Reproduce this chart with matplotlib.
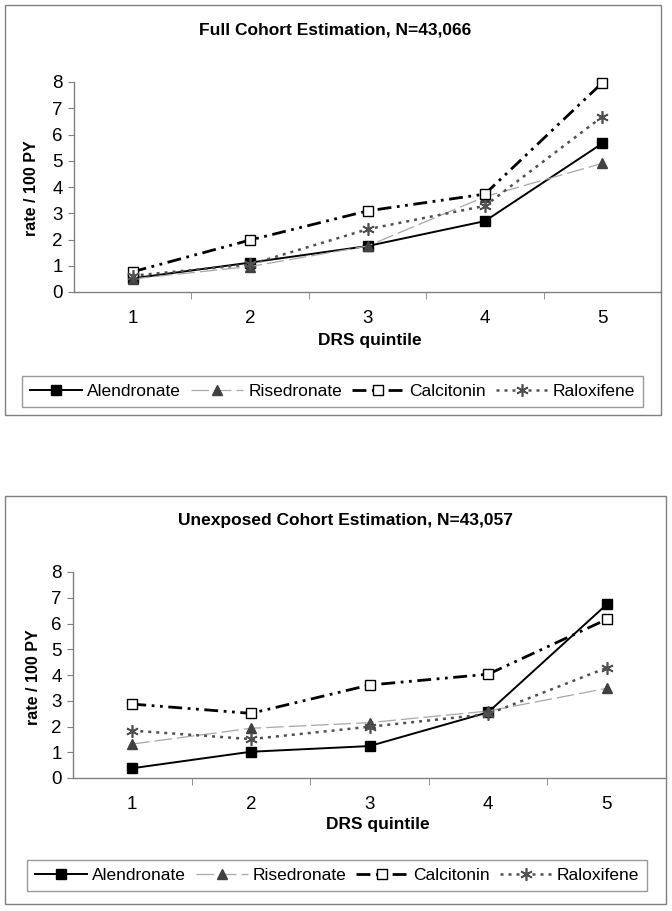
import matplotlib
matplotlib.use('Agg')
import matplotlib.pyplot as plt
from matplotlib.patches import Rectangle

plt.rcParams['font.family'] = ['Liberation Sans', 'DejaVu Sans']

# Values
quintiles = [1, 2, 3, 4, 5]
names = ['Alendronate', 'Risedronate', 'Calcitonin', 'Raloxifene']

full_alendronate = [0.52, 1.12, 1.75, 2.70, 5.66]
full_risedronate = [0.50, 0.97, 1.75, 3.63, 4.90]
full_calcitonin = [0.77, 1.98, 3.09, 3.73, 7.97]
full_raloxifene = [0.62, 1.05, 2.39, 3.28, 6.68]

unexp_alendronate = [0.38, 1.02, 1.24, 2.55, 6.74]
unexp_risedronate = [1.32, 1.93, 2.15, 2.60, 3.48]
unexp_calcitonin = [2.87, 2.51, 3.61, 4.03, 6.16]
unexp_raloxifene = [1.84, 1.51, 1.99, 2.48, 4.28]

titles = ['Full Cohort Estimation, N=43,066', 'Unexposed Cohort Estimation, N=43,057']

W, H = 672, 911
GRID = '#808080'

styles = [
    dict(color='black', lw=1.4, ls='-', marker='s', ms=6.5, mfc='black', mec='black'),
    dict(color='#a8a8a8', lw=0.9, ls=(0, (14, 4)), marker='^', ms=7.5, mfc='#404040', mec='#404040'),
    dict(color='black', lw=2.0, ls=(0, (5, 2, 1, 2, 1, 2)), marker='s', ms=6.5, mfc='white', mec='black', mew=1.0),
    dict(color='#505050', lw=1.8, ls=(0, (1.2, 2)), marker=(6, 2, 0), ms=9, mfc='#505050', mec='#505050', mew=1.2),
]


def px_box(x0, y0, x1, y1):
    # pixel box (top-left origin) -> figure fraction [left, bottom, width, height]
    return [x0 / W, 1 - y1 / H, (x1 - x0) / W, (y1 - y0) / H]


def panel(fig, ax, series, layout):
    for vals, name, st in zip(series, names, styles):
        ax.plot(quintiles, vals, label=name, **st)
    ax.set_xlim(0.5, 5.5)
    ax.set_ylim(0, 8)
    ax.set_yticks(range(0, 9))
    ax.set_xticks(quintiles)
    ax.set_xticks([1.5, 2.5, 3.5, 4.5], minor=True)
    ax.tick_params(axis='x', which='major', length=0, pad=13, labelsize=13.5)
    ax.tick_params(axis='x', which='minor', length=5, color=GRID, direction='out')
    ax.tick_params(axis='y', length=4, color=GRID, direction='out', pad=4, labelsize=13.5)
    for s in ['top', 'right']:
        ax.spines[s].set_visible(False)
    for s in ['left', 'bottom']:
        ax.spines[s].set_color(GRID)
        ax.spines[s].set_linewidth(1.0)
    for ln in ax.lines:
        ln.set_clip_on(False)

    bx0, by0, bx1, by1 = layout['box']
    fig.patches.append(Rectangle((bx0 / W, 1 - by1 / H), (bx1 - bx0) / W, (by1 - by0) / H,
                                 transform=fig.transFigure, fill=False, ec=GRID, lw=1.0))
    fig.text(layout['title'][0] / W, 1 - layout['title'][1] / H, layout['title_text'],
             ha='center', va='center', fontsize=12.5, fontweight='bold')
    fig.text(layout['xlabel'][0] / W, 1 - layout['xlabel'][1] / H, 'DRS quintile',
             ha='center', va='center', fontsize=12.5, fontweight='bold')
    fig.text(layout['ylabel'][0] / W, 1 - layout['ylabel'][1] / H, 'rate / 100 PY',
             ha='center', va='center', fontsize=11.5, fontweight='bold', rotation=90)

    lx0, ly0, lx1, ly1 = layout['legend']
    leg = fig.legend(handles=ax.lines, labels=names, ncol=4, loc='center', mode='expand',
                     bbox_to_anchor=(lx0 / W, 1 - ly1 / H, (lx1 - lx0) / W, (ly1 - ly0) / H),
                     bbox_transform=fig.transFigure, fontsize=12.5, frameon=True, fancybox=False,
                     handlelength=3.0, handletextpad=0.3, columnspacing=0.5, borderpad=0.45,
                     borderaxespad=0)
    leg.get_frame().set_edgecolor(GRID)
    leg.get_frame().set_linewidth(1.0)


fig = plt.figure(figsize=(W / 100, H / 100), dpi=100)

ax1 = fig.add_axes(px_box(74, 82, 661, 292))
panel(fig, ax1, [full_alendronate, full_risedronate, full_calcitonin, full_raloxifene],
      dict(box=(5, 5, 661, 415), title=(335, 30), title_text=titles[0], xlabel=(370, 340),
           ylabel=(32, 188), legend=(22, 376, 643, 407)))

ax2 = fig.add_axes(px_box(73, 572, 666, 778))
panel(fig, ax2, [unexp_alendronate, unexp_risedronate, unexp_calcitonin, unexp_raloxifene],
      dict(box=(5, 496, 666, 904), title=(345, 520), title_text=titles[1], xlabel=(378, 825),
           ylabel=(33, 677), legend=(27, 858, 647, 893)))

fig.savefig('out.png', dpi=100)
